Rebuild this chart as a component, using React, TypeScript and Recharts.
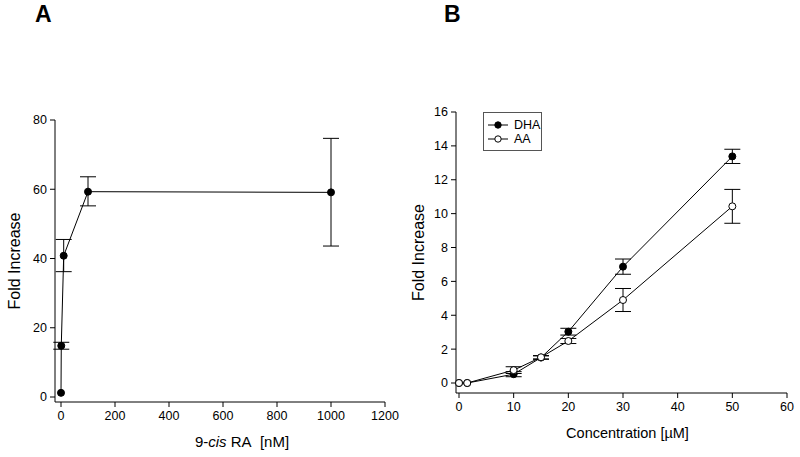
import React from "react";
import { ComposedChart, Line, XAxis, YAxis, ErrorBar, Legend, Label } from "recharts";

// Panel A: 9-cis RA dose response
const raConc = [0, 1, 10, 100, 1000];
const raFold = [1.2, 14.8, 40.8, 59.3, 59.1];
const raErrLow = [0, 1, 4.6, 4.1, 15.5];
const raErrHigh = [0, 1, 4.7, 4.3, 15.6];
const raXTicks = [0, 200, 400, 600, 800, 1000, 1200];
const raYTicks = [0, 20, 40, 60, 80];

// Panel B: fatty acids
const faConc = [0, 1.5, 10, 15, 20, 30, 50];
const dhaFold = [0, 0, 0.52, 1.5, 3.03, 6.87, 13.38];
const dhaErr = [0, 0, 0.15, 0.1, 0.2, 0.45, 0.42];
const aaFold = [0, 0, 0.76, 1.52, 2.48, 4.9, 10.43];
const aaErr = [0, 0, 0.2, 0.1, 0.15, 0.68, 1.0];
const faXTicks = [0, 10, 20, 30, 40, 50, 60];
const faYTicks = [0, 2, 4, 6, 8, 10, 12, 14, 16];

const FONT = "Arial, 'Liberation Sans', sans-serif";
const tickStyle = { fill: "#000", fontSize: 12.5, fontFamily: FONT };

const raData = raConc.map((x, i) => ({
  x,
  y: raFold[i],
  err: raErrHigh[i] === 0 ? null : [raErrLow[i], raErrHigh[i]],
}));

const faData = faConc.map((x, i) => ({
  x,
  dha: dhaFold[i],
  dhaErr: dhaErr[i] === 0 ? null : dhaErr[i],
  aa: aaFold[i],
  aaErr: aaErr[i] === 0 ? null : aaErr[i],
}));

const yTitle = (cx: number) => (props: any) => {
  const vb = props.viewBox;
  const cy = vb.y + vb.height / 2;
  return (
    <text
      x={cx}
      y={cy}
      transform={`rotate(-90, ${cx}, ${cy})`}
      textAnchor="middle"
      dominantBaseline="central"
      fontSize={16}
      fontFamily={FONT}
      fill="#000"
    >
      Fold Increase
    </text>
  );
};

const xTitle = (dx: number, size: number, children: React.ReactNode) => (props: any) => {
  const vb = props.viewBox;
  return (
    <text
      x={vb.x + vb.width / 2 + dx}
      y={vb.y + 45}
      textAnchor="middle"
      fontSize={size}
      fontFamily={FONT}
      fill="#000"
    >
      {children}
    </text>
  );
};

const LegendBox = () => (
  <div
    style={{
      border: "1px solid #555",
      width: 59,
      height: 39,
      boxSizing: "border-box",
      padding: "5px 0 0 4px",
      fontFamily: FONT,
      fontSize: 12.5,
      lineHeight: "14px",
      background: "#fff",
    }}
  >
    {[
      { name: "DHA", fill: "#000" },
      { name: "AA", fill: "#fff" },
    ].map((s) => (
      <div key={s.name} style={{ display: "flex", alignItems: "center" }}>
        <svg width={20} height={14}>
          <line x1={0} y1={7} x2={20} y2={7} stroke="#000" strokeWidth={1} />
          <circle cx={10} cy={7} r={3.2} fill={s.fill} stroke="#000" />
        </svg>
        <span style={{ marginLeft: 6 }}>{s.name}</span>
      </div>
    ))}
  </div>
);

const letterStyle: React.CSSProperties = {
  position: "absolute",
  top: 3,
  fontFamily: FONT,
  fontWeight: "bold",
  fontSize: 23,
  lineHeight: "23px",
};

export default function App() {
  return (
    <div style={{ position: "absolute", left: 0, top: 0, width: 800, height: 457, background: "#fff" }}>
      <div style={{ ...letterStyle, left: 35 }}>A</div>
      <div style={{ ...letterStyle, left: 444 }}>B</div>

      <div style={{ position: "absolute", left: 0, top: 0 }}>
        <ComposedChart width={400} height={457} data={raData} margin={{ top: 120, right: 15, bottom: 0, left: 0 }}>
          <XAxis
            type="number"
            dataKey="x"
            domain={[0, 1200]}
            ticks={raXTicks}
            padding={{ left: 6, right: 0 }}
            height={55}
            tick={tickStyle}
            tickSize={5}
            tickMargin={4}
            axisLine={{ stroke: "#000" }}
            tickLine={{ stroke: "#000" }}
          >
            <Label
              content={xTitle(22, 15, (
                <>
                  9-<tspan fontStyle="italic">cis</tspan> RA{"\u00a0\u00a0"}[nM]
                </>
              ))}
            />
          </XAxis>
          <YAxis
            type="number"
            domain={[0, 80]}
            ticks={raYTicks}
            padding={{ top: 0, bottom: 5 }}
            width={55}
            tick={tickStyle}
            tickSize={5}
            tickMargin={3}
            axisLine={{ stroke: "#000" }}
            tickLine={{ stroke: "#000" }}
          >
            <Label content={yTitle(14)} />
          </YAxis>
          <Line
            dataKey="y"
            stroke="#000"
            strokeWidth={1}
            dot={{ r: 3.5, fill: "#000", stroke: "#000" }}
            activeDot={false}
            isAnimationActive={false}
          >
            <ErrorBar dataKey="err" direction="y" width={8} stroke="#000" strokeWidth={1} />
          </Line>
        </ComposedChart>
      </div>

      <div style={{ position: "absolute", left: 400, top: 0 }}>
        <ComposedChart width={400} height={457} data={faData} margin={{ top: 112, right: 13, bottom: 0, left: 0 }}>
          <XAxis
            type="number"
            dataKey="x"
            domain={[0, 60]}
            ticks={faXTicks}
            padding={{ left: 3, right: 0 }}
            height={64}
            tick={tickStyle}
            tickSize={5}
            tickMargin={4}
            axisLine={{ stroke: "#000" }}
            tickLine={{ stroke: "#000" }}
          >
            <Label content={xTitle(6, 14.5, "Concentration [\u00b5M]")} />
          </XAxis>
          <YAxis
            type="number"
            domain={[0, 16]}
            ticks={faYTicks}
            padding={{ top: 0, bottom: 10 }}
            width={56}
            tick={tickStyle}
            tickSize={5}
            tickMargin={3}
            axisLine={{ stroke: "#000" }}
            tickLine={{ stroke: "#000" }}
          >
            <Label content={yTitle(18)} />
          </YAxis>
          <Legend
            layout="horizontal"
            verticalAlign="middle"
            align="center"
            content={() => <LegendBox />}
            wrapperStyle={{ position: "absolute", left: 83, top: 112, width: 59, height: 39 }}
          />
          <Line
            name="DHA"
            dataKey="dha"
            stroke="#000"
            strokeWidth={1}
            dot={{ r: 3.5, fill: "#000", stroke: "#000" }}
            activeDot={false}
            isAnimationActive={false}
          >
            <ErrorBar dataKey="dhaErr" direction="y" width={8} stroke="#000" strokeWidth={1} />
          </Line>
          <Line
            name="AA"
            dataKey="aa"
            stroke="#000"
            strokeWidth={1}
            dot={{ r: 3.5, fill: "#fff", stroke: "#000" }}
            activeDot={false}
            isAnimationActive={false}
          >
            <ErrorBar dataKey="aaErr" direction="y" width={8} stroke="#000" strokeWidth={1} />
          </Line>
        </ComposedChart>
      </div>
    </div>
  );
}
